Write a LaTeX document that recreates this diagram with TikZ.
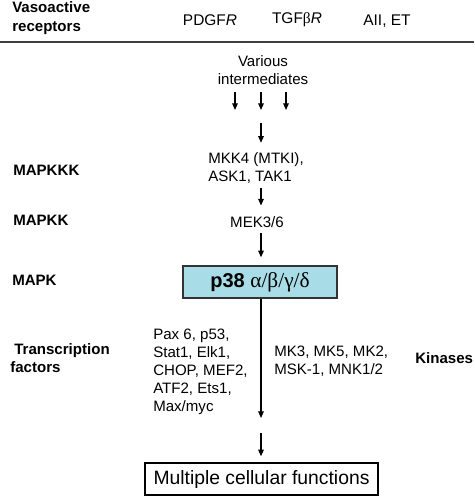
\documentclass[tikz,border=0pt]{standalone}
\usepackage{fontspec}
\setmainfont{Liberation Sans}
\newfontfamily\greek{Liberation Serif}
\usetikzlibrary{arrows.meta}
\definecolor{boxblue}{RGB}{168,220,230}
\newcommand{\fs}{\fontsize{11.3}{13.8}\selectfont}
\newcommand{\fb}{\fontsize{14.5}{16}\selectfont}

\begin{document}
\begin{tikzpicture}[x=0.75pt,y=-0.75pt,
    txt/.style={inner sep=0pt, font=\fs, align=left},
    lbl/.style={inner sep=0pt, font=\fs\bfseries, align=left, anchor=west},
    arr/.style={-{Triangle[length=5pt,width=4.2pt]}, line width=0.9pt},
    rect/.style={draw=black!80, line width=1.1pt, inner sep=0pt, minimum height=24pt, font=\fb}]
    \useasboundingbox (0,0) rectangle (474,498);

    % Receptors
    \node[lbl, font=\fontsize{11.3}{14.2}\selectfont\bfseries] (recep) at (12,18) {Vasoactive\\receptors};
    \node[txt, font=\fontsize{11.6}{14}\selectfont] (pdgf) at (210,20) {PDGF\textit{R}};
    \node[txt, font=\fontsize{11.6}{14}\selectfont] (tgf) at (297,20) {TGF{\greek β}\textit{R}};
    \node[txt, font=\fontsize{11.6}{14}\selectfont] (aii) at (387,21) {AII, ET};
    \draw[line width=1.5pt, black!75] (0,42) -- (474,42);

    % Left labels
    \node[lbl] (mapkkk) at (13,170) {MAPKKK};
    \node[lbl] (mapkk) at (13,220) {MAPKK};
    \node[lbl] (mapk) at (12,280) {MAPK};
    \node[lbl] (trans) at (10,358) {\hspace*{3pt}Transcription\\factors};
    \node[lbl] (kinases) at (415,358) {Kinases};

    % Cascade
    \node[txt, align=center] (inter) at (263,70) {Various\\intermediates};
    \node[txt, anchor=west] (mkk) at (208,168) {MKK4 (MTKI),\\ASK1, TAK1};
    \node[txt] (mek) at (257,222) {MEK3/6};
    \node[rect, fill=boxblue, minimum width=115.5pt] (p38) at (260,282) {\fontsize{15}{16}\selectfont\textbf{p38} {\greek\fontsize{16}{16}\selectfont α/β/γ/δ}};
    \node[txt, anchor=west, font=\fontsize{11.3}{13.5}\selectfont] (tf) at (153,372) {Pax 6, p53,\\Stat1, Elk1,\\CHOP, MEF2,\\ATF2, Ets1,\\Max/myc};
    \node[txt, anchor=west, font=\fontsize{11.3}{13.5}\selectfont] (kin) at (274,361) {MK3, MK5, MK2,\\MSK-1, MNK1/2};
    \node[rect, draw=black, minimum width=174.75pt] (func) at (261.5,479) {Multiple cellular functions};

    % Arrows
    \foreach \x [count=\i] in {235,261,286}
        \coordinate (v\i) at (\x,110);
    \foreach \i in {1,2,3}
        \draw[arr, shorten <=5.6pt] (inter.south -| v\i) -- (v\i);
    \coordinate (join) at (261,123);
    \coordinate (tfend) at (261,418);
    \coordinate (fstart) at (261,433);
    \draw[arr, shorten >=7pt] (join) -- (join |- mkk.north);
    \draw[arr, shorten <=3pt, shorten >=8pt] (join |- mkk.south) -- (join |- mek.north);
    \draw[arr, shorten <=4pt, shorten >=6pt] (join |- mek.south) -- (join |- p38.north);
    \draw[arr] (join |- p38.south) -- (tfend);
    \draw[arr, shorten >=4.5pt] (fstart) -- (fstart |- func.north);
\end{tikzpicture}
\end{document}
